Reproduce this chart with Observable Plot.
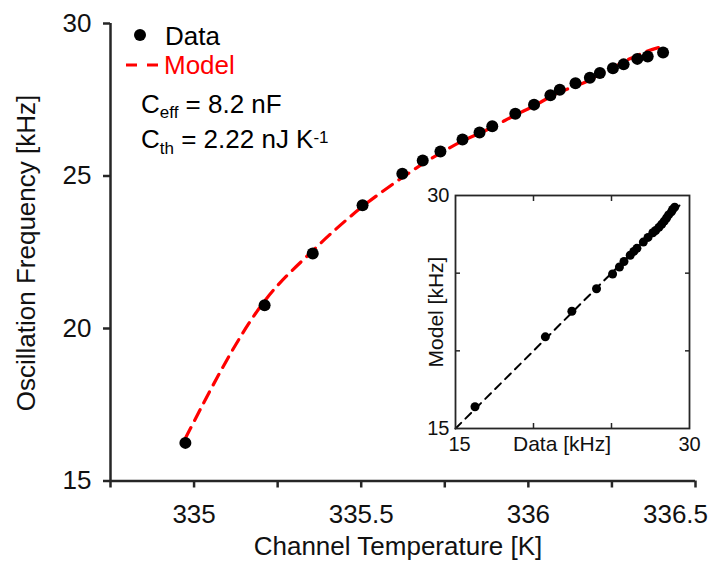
<!DOCTYPE html>
<html>
<head>
<meta charset="utf-8">
<script src="https://cdn.jsdelivr.net/npm/d3@7"></script>
<script src="https://cdn.jsdelivr.net/npm/@observablehq/plot@0.6"></script>
<style>
  html, body { margin: 0; padding: 0; background: white; }
  #wrap { position: relative; width: 710px; height: 563px; }
  #inset { position: absolute; left: 405px; top: 180px; }
  svg text { font-family: "Liberation Sans", Arial, sans-serif; }
</style>
</head>
<body>
<div id="wrap"><div id="main"></div><div id="inset"></div></div>
<script>
// Channel temperature [K]
const temperature = [334.974, 335.211, 335.355, 335.504, 335.623, 335.684, 335.737, 335.803, 335.854, 335.892,
  335.961, 336.017, 336.066, 336.094, 336.141, 336.184, 336.214, 336.253, 336.285, 336.326, 336.357, 336.403];
// Measured oscillation frequency [kHz]
const frequency = [16.25, 20.76, 22.46, 24.04, 25.07, 25.51, 25.80, 26.20, 26.43, 26.63,
  27.04, 27.34, 27.65, 27.83, 28.04, 28.22, 28.38, 28.53, 28.66, 28.84, 28.92, 29.05];
// Model frequency [kHz]
const modelFreq = [16.40, 20.90, 22.55, 24.00, 24.95, 25.40, 25.75, 26.15, 26.40, 26.60,
  27.00, 27.30, 27.60, 27.75, 27.95, 28.15, 28.35, 28.55, 28.75, 28.95, 29.10, 29.25];

const xTicks = [334.75, 335, 335.25, 335.5, 335.75, 336, 336.25, 336.5];
const xLabelTicks = [335, 335.5, 336];
const xLastLabelTick = [336.5];
const yTicks = [15, 20, 25, 30];
const insetMinorTicks = [20, 25];
const insetLabelTicks = [15, 30];
const insetFirstX = [15];
const insetLastX = [30];
const diagonal = [15, 29.6];

const rows = temperature.map((t, i) => ({T: t, f: frequency[i], m: modelFreq[i]}));
const axisColor = "#262626";
const font = "Liberation Sans, Arial, sans-serif";

const main = Plot.plot({
  width: 710, height: 563,
  marginLeft: 110, marginRight: 15, marginTop: 23, marginBottom: 82.5,
  style: {fontFamily: font, fontSize: "26px", color: axisColor, background: "white", overflow: "visible"},
  x: {domain: [334.75, 336.5]},
  y: {domain: [15, 30]},
  marks: [
    Plot.axisX({ticks: xTicks, tickFormat: () => "", tickSize: 7, strokeWidth: 2.5, label: null}),
    Plot.axisX({ticks: xLabelTicks, tickFormat: d => String(d), tickSize: 0, tickPadding: 24,
      fontSize: 26, fill: "#111", label: null}),
    Plot.axisX({ticks: xLastLabelTick, tickFormat: d => String(d), tickSize: 0, tickPadding: 24, dx: -20,
      fontSize: 26, fill: "#111", label: null}),
    Plot.axisY({ticks: yTicks, tickFormat: d => String(d), tickSize: 7, tickPadding: 12,
      strokeWidth: 2.5, fontSize: 26, fill: "#111", label: null}),
    Plot.ruleX([334.75], {stroke: axisColor, strokeWidth: 2.5}),
    Plot.ruleY([15], {stroke: axisColor, strokeWidth: 2.5}),
    Plot.line(rows, {x: "T", y: "m", stroke: "#ff0000", strokeWidth: 3.2, strokeDasharray: "12,8", curve: "monotone-x"}),
    Plot.dot(rows, {x: "T", y: "f", r: 6, fill: "black", stroke: "none"})
  ]
});
document.getElementById("main").appendChild(main);

const svg = d3.select(main);
// axis titles
svg.append("text").attr("x", 398).attr("y", 555).attr("text-anchor", "middle")
  .attr("font-size", 26).attr("fill", "#111").text("Channel Temperature [K]");
svg.append("text").attr("transform", "translate(35,253) rotate(-90)").attr("text-anchor", "middle")
  .attr("font-size", 26).attr("fill", "#111").text("Oscillation Frequency [kHz]");
// legend
svg.append("circle").attr("cx", 140).attr("cy", 35).attr("r", 6).attr("fill", "black");
svg.append("text").attr("x", 165).attr("y", 44.5).attr("text-anchor", "start").attr("font-size", 26).attr("fill", "black").text("Data");
svg.append("line").attr("x1", 126).attr("x2", 158).attr("y1", 65).attr("y2", 65)
  .attr("stroke", "#ff0000").attr("stroke-width", 3).attr("stroke-dasharray", "11,10");
svg.append("text").attr("x", 164).attr("y", 74).attr("text-anchor", "start").attr("font-size", 26).attr("fill", "#ff0000").text("Model");
// annotations
const t1 = svg.append("text").attr("x", 141).attr("y", 113).attr("text-anchor", "start").attr("font-size", 26).attr("fill", "black");
t1.append("tspan").text("C");
t1.append("tspan").attr("font-size", 17).attr("dy", 5).text("eff");
t1.append("tspan").attr("dy", -5).text(" = 8.2 nF");
const t2 = svg.append("text").attr("x", 141).attr("y", 148).attr("text-anchor", "start").attr("font-size", 26).attr("fill", "black");
t2.append("tspan").text("C");
t2.append("tspan").attr("font-size", 17).attr("dy", 6).text("th");
t2.append("tspan").attr("dy", -6).text(" = 2.22 nJ K");
t2.append("tspan").attr("font-size", 17).attr("dy", -5).text("-1");

// inset: model vs data
const inset = Plot.plot({
  width: 300, height: 280,
  marginLeft: 50, marginRight: 16, marginTop: 15, marginBottom: 32,
  style: {fontFamily: font, fontSize: "19px", color: axisColor, background: "transparent", overflow: "visible"},
  x: {domain: [15, 30]},
  y: {domain: [15, 30]},
  marks: [
    Plot.frame({fill: "white", stroke: "none"}),
    Plot.axisX({anchor: "bottom", ticks: insetMinorTicks, tickSize: -5, tickFormat: () => "", strokeWidth: 1.5, label: null}),
    Plot.axisX({anchor: "top", ticks: insetMinorTicks, tickSize: -5, tickFormat: () => "", strokeWidth: 1.5, label: null}),
    Plot.axisY({anchor: "left", ticks: insetMinorTicks, tickSize: -5, tickFormat: () => "", strokeWidth: 1.5, label: null}),
    Plot.axisY({anchor: "right", ticks: insetMinorTicks, tickSize: -5, tickFormat: () => "", strokeWidth: 1.5, label: null}),
    Plot.axisX({anchor: "bottom", ticks: insetFirstX, tickSize: 0, tickPadding: 8, dx: 4, fontSize: 20, fill: "#111", label: null}),
    Plot.axisX({anchor: "bottom", ticks: insetLastX, tickSize: 0, tickPadding: 8, fontSize: 20, fill: "#111", label: null}),
    Plot.axisY({anchor: "left", ticks: insetLabelTicks, tickSize: 0, tickPadding: 6, fontSize: 20, fill: "#111", label: null}),
    Plot.line(diagonal.map(v => ({d: v, m: v})), {x: "d", y: "m", stroke: "black", strokeWidth: 2, strokeDasharray: "8,6"}),
    Plot.dot(rows, {x: "f", y: "m", r: 4.5, fill: "black", stroke: "none"}),
    Plot.frame({stroke: axisColor, strokeWidth: 1.8})
  ]
});
document.getElementById("inset").appendChild(inset);
const isvg = d3.select(inset);
isvg.append("text").attr("x", 157).attr("y", 271).attr("text-anchor", "middle")
  .attr("font-size", 21).attr("fill", "#111").text("Data [kHz]");
isvg.append("text").attr("transform", "translate(38,132) rotate(-90)").attr("text-anchor", "middle")
  .attr("font-size", 21).attr("fill", "#111").text("Model [kHz]");
</script>
</body>
</html>
